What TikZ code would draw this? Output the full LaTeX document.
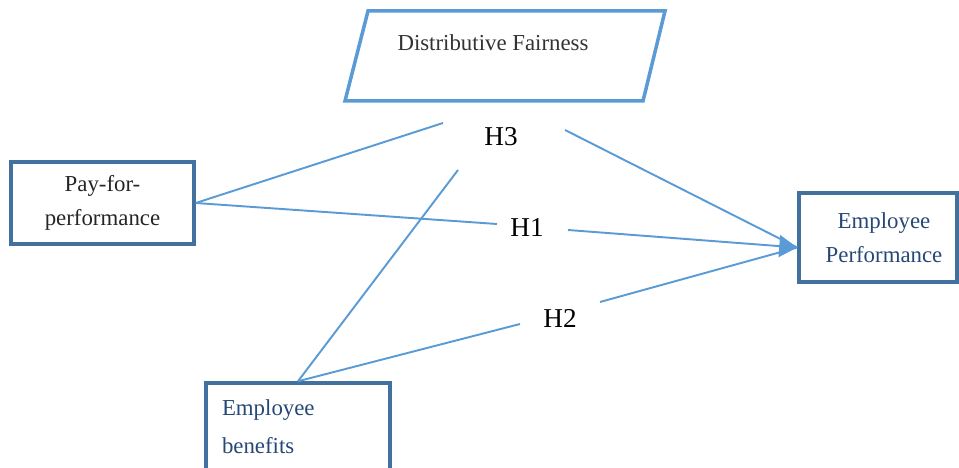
\documentclass[tikz,border=0pt]{standalone}
\usepackage{fontspec}
\setmainfont{Liberation Serif}
\usepackage{tikz}
\usetikzlibrary{arrows.meta,positioning,calc}
\definecolor{boxblue}{RGB}{65,113,156}
\definecolor{lineblue}{RGB}{91,155,213}
\definecolor{textblue}{RGB}{38,72,118}
\tikzstyle{every node}=[font=\fontsize{13}{19.5}\selectfont]
\tikzstyle{boxnode} = [draw=boxblue, line width=2pt, align=center]
\tikzstyle{link} = [draw=lineblue, line width=1.1pt]
\tikzstyle{hyp} = [font=\fontsize{15.5}{18}\selectfont]

\begin{document}
\begin{tikzpicture}[>={Triangle[length=3.6mm,width=4.4mm]}]
    \useasboundingbox (0,0) rectangle (19.18,9.36);

    % parallelogram for the moderator
    \draw[draw=lineblue, line width=2pt] (7.36,9.14) -- (13.30,9.14) -- (12.86,7.34) -- (6.90,7.34) -- cycle;
    \node[text=black!80] (fair) at (9.86,8.50) {Distributive Fairness};

    \node[boxnode, minimum width=3.66cm, minimum height=1.64cm, text=black!85] (pay) at (2.05,5.30) {Pay-for-\\performance};
    \node[boxnode, minimum width=3.16cm, minimum height=1.78cm, text=textblue] (perf) at (17.56,4.61) {\hspace*{0.24cm}Employee\\\hspace*{0.24cm}Performance};
    \node[boxnode, minimum width=3.68cm, minimum height=1.76cm, text width=3.04cm, inner xsep=0.32cm, align=left, text=textblue, font=\fontsize{13}{21.5}\selectfont] (ben) at (5.96,0.82) {Employee\\benefits};

    \node[hyp] (h3) at (10.02,6.62) {H3};
    \node[hyp] (h1) at (10.54,4.80) {H1};
    \node[hyp] (h2) at (11.20,3.00) {H2};

    \coordinate (tip) at ([yshift=-0.2cm]perf.west);
    \coordinate (payH3) at (8.86,6.90);
    \coordinate (payH1) at (9.94,4.88);
    \coordinate (benH3) at (9.16,5.96);
    \coordinate (benH2) at (10.40,2.88);
    \coordinate (outH3) at (11.30,6.76);
    \coordinate (outH1) at (11.36,4.76);
    \coordinate (outH2) at (12.00,3.32);

    \draw[link] (pay.east) -- (payH3);
    \draw[link] (pay.east) -- (payH1);
    \draw[link] (ben.north) -- (benH3);
    \draw[link] (ben.north) -- (benH2);

    \draw[link] (outH3) -- (tip);
    \draw[link] (outH2) -- (tip);
    \draw[link, ->] (outH1) -- (tip);

\end{tikzpicture}
\end{document}
